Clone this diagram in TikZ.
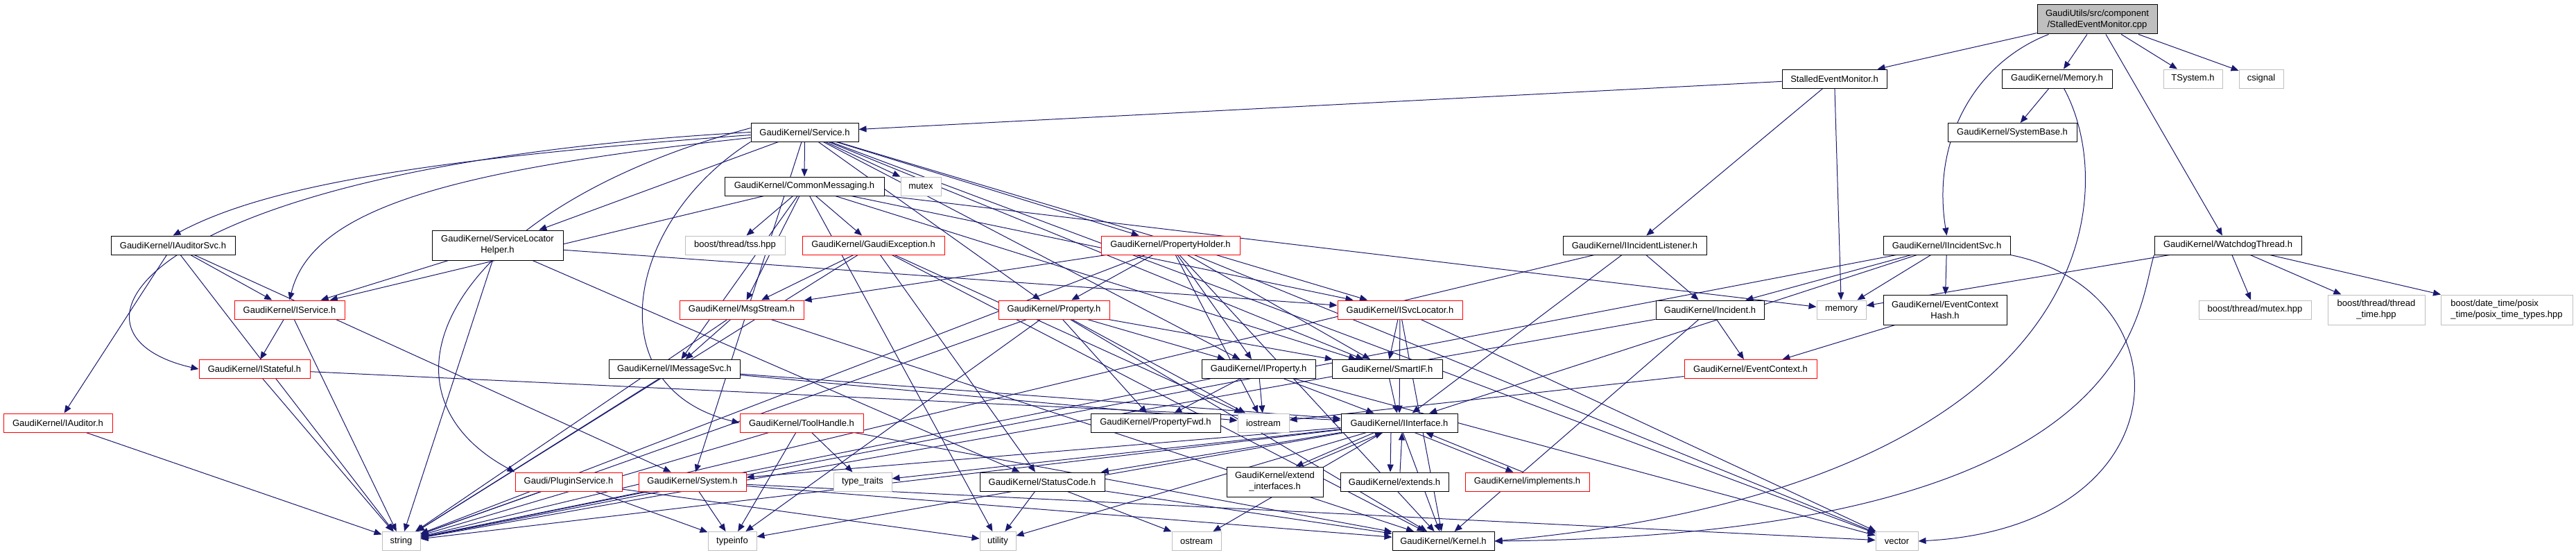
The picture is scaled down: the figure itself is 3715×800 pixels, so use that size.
\documentclass[tikz,border=0pt]{standalone}
\usepackage{fontspec}
\setmainfont{Liberation Sans}
\usetikzlibrary{arrows.meta}
\definecolor{edgec}{RGB}{25,25,112}
\definecolor{grayb}{RGB}{191,191,191}
\pgfdeclarelayer{bg}
\pgfsetlayers{bg,main}
\begin{document}
\begin{tikzpicture}[x=1pt,y=-1pt,
  box/.style={draw=black, fill=white, line width=1pt, inner sep=0pt, minimum height=27pt, align=center, font=\fontsize{13}{16}\selectfont},
  trunc/.style={box, draw=red},
  ext/.style={box, draw=grayb},
  two/.style={minimum height=43pt},
  e/.style={draw=edgec, line width=1pt, -{Triangle[length=11pt,width=9pt]}}]
\useasboundingbox (0,0) rectangle (3715,800);
% nodes
\node[box, fill=grayb, minimum width=173pt, minimum height=42pt] (root) at (3024.5,28) {GaudiUtils/src/component\\/StalledEventMonitor.cpp};
\node[box, minimum width=151pt] (sem) at (2645.5,113.5) {StalledEventMonitor.h};
\node[box, minimum width=159pt] (memh) at (2966.5,113.5) {GaudiKernel/Memory.h};
\node[box, minimum width=186pt] (sysbase) at (2902,191) {GaudiKernel/SystemBase.h};
\node[ext, minimum width=85pt] (tsys) at (3162.5,113.5) {TSystem.h};
\node[ext, minimum width=64pt] (csig) at (3261,113.5) {csignal};
\node[box, minimum width=155pt] (service) at (1160.5,190.5) {GaudiKernel/Service.h};
\node[box, minimum width=230pt] (commsg) at (1160,268.5) {GaudiKernel/CommonMessaging.h};
\node[ext, minimum width=58pt] (mutex) at (1328,268.5) {mutex};
\node[box, minimum width=179pt] (iaudsvc) at (249.5,353.5) {GaudiKernel/IAuditorSvc.h};
\node[trunc, minimum width=159pt] (iservice) at (417.5,446.5) {GaudiKernel/IService.h};
\node[trunc, minimum width=160pt] (istateful) at (367,532) {GaudiKernel/IStateful.h};
\node[trunc, minimum width=157pt] (iauditor) at (83.5,609.5) {GaudiKernel/IAuditor.h};
\node[ext, minimum width=55pt] (string) at (578.5,780) {string};
\node[box, two, minimum width=189pt] (slh) at (717.5,353.5) {GaudiKernel/ServiceLocator\\Helper.h};
\node[ext, minimum width=144pt] (tss) at (1060,353.5) {boost/thread/tss.hpp};
\node[trunc, minimum width=205pt] (gexc) at (1259.5,353.5) {GaudiKernel/GaudiException.h};
\node[trunc, minimum width=179pt] (msgstream) at (1069.5,446.5) {GaudiKernel/MsgStream.h};
\node[trunc, minimum width=200pt] (propholder) at (1688,353.5) {GaudiKernel/PropertyHolder.h};
\node[trunc, minimum width=160pt] (property) at (1520,446.5) {GaudiKernel/Property.h};
\node[trunc, minimum width=180pt] (isvcloc) at (2019,446.5) {GaudiKernel/ISvcLocator.h};
\node[box, minimum width=207pt] (iinclis) at (2357.5,353.5) {GaudiKernel/IIncidentListener.h};
\node[box, minimum width=183pt] (iincsvc) at (2807.5,353.5) {GaudiKernel/IIncidentSvc.h};
\node[box, minimum width=212pt] (wdog) at (3213,353.5) {GaudiKernel/WatchdogThread.h};
\node[box, minimum width=156pt] (incident) at (2466,446.5) {GaudiKernel/Incident.h};
\node[ext, minimum width=71pt] (memory) at (2655.5,446.5) {memory};
\node[box, two, minimum width=178pt] (evctxhash) at (2805,446.5) {GaudiKernel/EventContext\\Hash.h};
\node[ext, minimum width=162pt] (mtxhpp) at (3252,446.5) {boost/thread/mutex.hpp};
\node[ext, two, minimum width=140pt] (thtime) at (3427,446.5) {boost/thread/thread\\\_time.hpp};
\node[ext, two, minimum width=190pt, align=left] (posix) at (3615,446.5) {boost/date\_time/posix\\\_time/posix\_time\_types.hpp};
\node[trunc, minimum width=191pt] (evctx) at (2524.5,532) {GaudiKernel/EventContext.h};
\node[box, minimum width=164pt] (iproperty) at (1815,532) {GaudiKernel/IProperty.h};
\node[box, minimum width=159pt] (smartif) at (2000.5,532) {GaudiKernel/SmartIF.h};
\node[box, minimum width=189pt] (imsgsvc) at (972.5,532) {GaudiKernel/IMessageSvc.h};
\node[box, minimum width=187pt] (propfwd) at (1666.5,609.5) {GaudiKernel/PropertyFwd.h};
\node[ext, minimum width=74pt] (iostream) at (1822,609.5) {iostream};
\node[box, two, minimum width=139pt] (extint) at (1838.5,694.5) {GaudiKernel/extend\\\_interfaces.h};
\node[box, minimum width=168pt] (iinterface) at (2018,609.5) {GaudiKernel/IInterface.h};
\node[box, minimum width=156pt] (extends) at (2011,694.5) {GaudiKernel/extends.h};
\node[trunc, minimum width=179pt] (implements) at (2202.5,694.5) {GaudiKernel/implements.h};
\node[box, minimum width=147pt] (kernel) at (2081.5,780) {GaudiKernel/Kernel.h};
\node[trunc, minimum width=178pt] (toolhandle) at (1156,609.5) {GaudiKernel/ToolHandle.h};
\node[trunc, minimum width=154pt] (pluginsvc) at (820,694.5) {Gaudi/PluginService.h};
\node[trunc, minimum width=155pt] (system) at (998.5,694.5) {GaudiKernel/System.h};
\node[ext, minimum width=70pt] (typeinfo) at (1056,780) {typeinfo};
\node[ext, minimum width=84pt] (typetraits) at (1244,694.5) {type\_traits};
\node[box, minimum width=180pt] (statuscode) at (1503,694.5) {GaudiKernel/StatusCode.h};
\node[ext, minimum width=52pt] (utility) at (1439,780) {utility};
\node[ext, minimum width=71pt] (ostream) at (1725.5,780) {ostream};
\node[ext, minimum width=61pt] (vector) at (2735.5,780) {vector};
% edges
\begin{pgfonlayer}{bg}
\draw[e] (root) -- (sem);
\draw[e] (root) -- (memh);
\draw[e] (root) -- (tsys);
\draw[e] (root) -- (csig);
\draw[e] ([xshift=17pt]root.south west) .. controls (2850,90) and (2785,200) .. (iincsvc.north);
\draw[e] (root) -- (wdog);
\draw[e] (sem) -- (service);
\draw[e] (sem) -- (iinclis);
\draw[e] (sem) -- (memory);
\draw[e] (memh) -- (sysbase);
\draw[e] ([xshift=10pt]memh.south) .. controls (3060,280) and (3030,700) .. (kernel.east);
% Service.h
\draw[e] ([yshift=-4pt]service.west) .. controls (600,230) and (380,270) .. (iaudsvc.north);
\draw[e] ([yshift=-8pt]service.west) .. controls (650,245) and (450,300) .. (iservice.north);
\draw[e] (service.west) .. controls (200,240) and (60,480) .. (istateful.west);
\draw[e] ([yshift=6pt]service.west) .. controls (650,300) and (520,560) .. (pluginsvc.north west);
\draw[e] (service.south west) .. controls (900,320) and (860,560) .. (toolhandle.west);
\foreach \t in {slh,commsg,mutex,propholder,property,isvcloc,smartif,iproperty,system,vector}
  \draw[e] (service) -- (\t);
% CommonMessaging.h
\foreach \t in {iservice,tss,gexc,msgstream,imsgsvc,utility,memory,isvcloc,smartif}
  \draw[e] (commsg) -- (\t);
\foreach \t in {iservice,iauditor,string,system}
  \draw[e] (iaudsvc) -- (\t);
\draw[e] (iauditor) -- (string);
\draw[e] (iservice) -- (istateful);
\draw[e] (iservice) -- (string);
\draw[e] (istateful) -- (iinterface);
\draw[e] (istateful) -- (string);
\foreach \t in {iservice,string,isvcloc,statuscode}
  \draw[e] (slh) -- (\t);
\foreach \t in {msgstream,string,statuscode,kernel,iostream}
  \draw[e] (gexc) -- (\t);
\foreach \t in {imsgsvc,string,kernel}
  \draw[e] (msgstream) -- (\t);
\foreach \t in {iinterface,string,iostream}
  \draw[e] (imsgsvc) -- (\t);
\foreach \t in {property,msgstream,string,iproperty,iostream,smartif,kernel,vector}
  \draw[e] (propholder) -- (\t);
\foreach \t in {propfwd,iproperty,string,typeinfo,iostream,smartif,kernel}
  \draw[e] (property) -- (\t);
\foreach \t in {smartif,iinterface,kernel,vector}
  \draw[e] (isvcloc) -- (\t);
\foreach \t in {propfwd,iostream,iinterface,string,vector}
  \draw[e] (iproperty) -- (\t);
\draw[e] (smartif) -- (iinterface);
\foreach \t in {kernel,statuscode,ostream,typeinfo,typetraits,string,system,utility}
  \draw[e] (iinterface) -- (\t);
\draw[e] ([xshift=-36pt]iinterface.south) -- ([xshift=30pt]extint.north);
\draw[e] ([xshift=40pt]extint.north) -- ([xshift=-24pt]iinterface.south);
\draw[e] ([xshift=-12pt]iinterface.south) -- ([xshift=-6pt]extends.north);
\draw[e] ([xshift=8pt]extends.north) -- ([xshift=4pt]iinterface.south);
\draw[e] ([xshift=22pt]iinterface.south) -- ([xshift=-20pt]implements.north);
\draw[e] ([xshift=-6pt]implements.north) -- ([xshift=38pt]iinterface.south);
\foreach \t in {string,typetraits,typeinfo,kernel}
  \draw[e] (toolhandle) -- (\t);
\foreach \t in {string,typeinfo,utility}
  \draw[e] (pluginsvc) -- (\t);
\foreach \t in {string,typeinfo,kernel,vector}
  \draw[e] (system) -- (\t);
\foreach \t in {utility,ostream,kernel}
  \draw[e] (statuscode) -- (\t);
\foreach \t in {evctx,string,kernel}
  \draw[e] (incident) -- (\t);
\draw[e] (evctxhash) -- (evctx);
\draw[e] (evctx) -- (iostream);
\foreach \t in {iinterface,incident,string}
  \draw[e] (iinclis) -- (\t);
\foreach \t in {incident,memory,evctxhash,iinterface,string}
  \draw[e] (iincsvc) -- (\t);
\draw[e] (iincsvc.south east) .. controls (3160,420) and (3150,760) .. (vector.east);
\draw[e] (wdog) -- (memory);
\draw[e] (wdog.south west) .. controls (3080,450) and (3090,770) .. (kernel.east);
\draw[e] (wdog) -- (mtxhpp);
\draw[e] (wdog) -- (thtime);
\draw[e] (wdog) -- (posix);
\end{pgfonlayer}
\end{tikzpicture}
\end{document}
